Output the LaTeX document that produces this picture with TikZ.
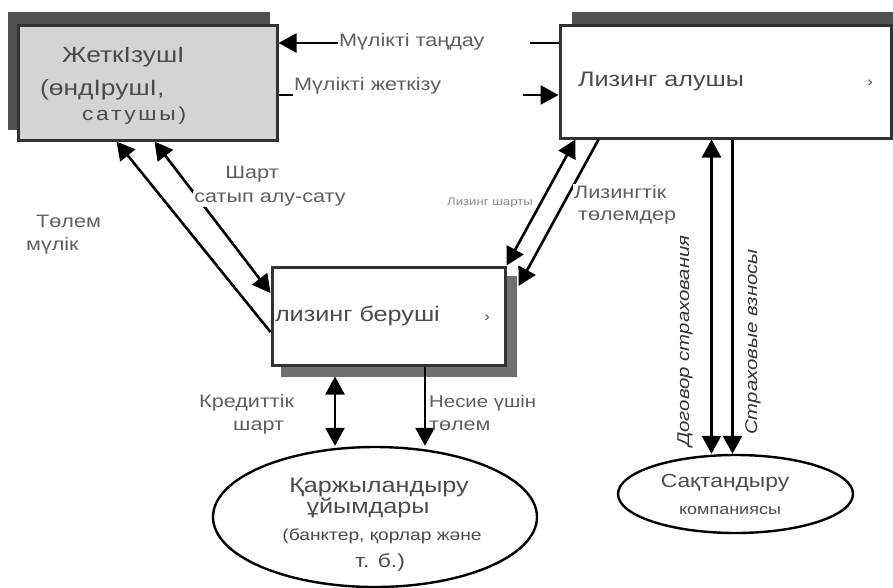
\documentclass[tikz,border=0pt]{standalone}
\usepackage{fontspec}
\setmainfont[FakeStretch=1.2]{Liberation Sans}
\usepackage{tikz}
\usetikzlibrary{arrows.meta, shapes.geometric, shadows, calc, positioning}
\definecolor{boxgray}{RGB}{212,212,212}
\definecolor{shade}{RGB}{80,80,80}
\definecolor{shadelight}{RGB}{112,112,112}
\definecolor{frame}{RGB}{50,50,50}
\definecolor{ink}{RGB}{75,75,75}
\definecolor{labelink}{RGB}{95,95,95}
\definecolor{faint}{RGB}{140,140,140}

\begin{document}
\begin{tikzpicture}[x=1pt, y=-1pt]

% TikZ styles
\tikzset{
  party/.style={rectangle, draw=frame, line width=3pt, fill=white, inner sep=0pt},
  fund/.style={ellipse, draw=black, line width=2.4pt, fill=white, inner sep=0pt},
  boxtext/.style={text=ink, inner sep=0pt, font=\fontsize{22}{24}\selectfont},
  lbl/.style={text=labelink, fill=white, inner sep=1pt, font=\fontsize{18}{20}\selectfont},
  arrow/.style={-{Triangle[length=18pt, width=19pt]}, line width=2.6pt},
  arrowboth/.style={{Triangle[length=18pt, width=19pt]}-{Triangle[length=18pt, width=19pt]}, line width=2.6pt}
}
\useasboundingbox (0,0) rectangle (893,587);

%==========================
% Teilnehmer
%==========================
\node[party, fill=boxgray, minimum width=259pt, minimum height=115pt,
  copy shadow={shadow xshift=-9pt, shadow yshift=12pt, fill=shade, draw=shade}] (supplier) at (147.5,82.5) {};
\node[party, minimum height=113pt, text width=295pt, inner xsep=18pt, align=left,
  text=ink, font=\fontsize{21}{24}\selectfont,
  copy shadow={shadow xshift=13pt, shadow yshift=12pt, fill=shade, draw=shade}] (lessee) at (725.5,81.5) {Лизинг алушы\hfill{\fontsize{14}{14}\selectfont ›}};
\node[party, minimum height=98pt, text width=227pt, inner xsep=3pt, align=left,
  text=ink, font=\fontsize{21}{24}\selectfont,
  copy shadow={shadow xshift=10pt, shadow yshift=-10pt, fill=shadelight, draw=shadelight}] (lessor) at (388.5,316) {лизинг беруші\hfill{\fontsize{14}{14}\selectfont ›}\hspace*{12pt}};
\node[fund, minimum width=324pt, minimum height=140pt] (funding) at (375,517) {};
\node[fund, minimum width=235pt, minimum height=78pt] (insurer) at (735.5,494) {};

% --- Texte in den Boxen ---
\node[boxtext, anchor=base west] (suppliername) at (62,62) {ЖеткІзушІ};
\node[boxtext, anchor=base west] (supplierkind) at (40,95) {(өндІрушІ,};
\node[boxtext, anchor=base west, font=\fontsize{19}{20}\selectfont\addfontfeature{LetterSpace=14}] (supplierseller) at (82,120) {сатушы)};

\node[boxtext, anchor=base, font=\fontsize{21}{24}\selectfont] (fundname) at (379,492) {Қаржыландыру};
\node[boxtext, anchor=base, font=\fontsize{21}{24}\selectfont] (fundorgs) at (368,513) {ұйымдары};
\node[boxtext, anchor=base, font=\fontsize{16}{18}\selectfont] (fundlist) at (382,540) {(банктер, қорлар және};
\node[boxtext, anchor=base, font=\fontsize{19}{20}\selectfont] (fundetc) at (380,567) {т. б.)};

\node[boxtext, anchor=base, font=\fontsize{19}{20}\selectfont] (insurername) at (725,487) {Сақтандыру};
\node[boxtext, anchor=base, font=\fontsize{15}{18}\selectfont] (insurerkind) at (730,514) {компаниясы};

% --- Pfeile ---
\coordinate (chooseline) at (0,43);
\coordinate (giveline) at (0,95);
\draw[arrow] (lessee.west |- chooseline) -- (supplier.east |- chooseline);
\draw[arrow] (supplier.east |- giveline) -- (lessee.west |- giveline);

\draw[arrow] ($(lessor.west)+(0,16)$) -- ($(supplier.south west)+(100,0)$);
\draw[arrowboth] ($(supplier.south west)+(138,0)$) -- ($(lessor.west)+(0,-23)$);

\draw[arrowboth] ($(lessee.south west)+(17,0)$) -- (lessor.north east);
\draw[arrow] ($(lessee.south west)+(40,0)$) -- ($(lessor.east)+(12,-30)$);

\draw[arrowboth] ($(insurer.north |- lessee.south)+(-24,0)$) -- ($(insurer.north)+(-24,0)$);
\draw[arrow] ($(insurer.north |- lessee.south)+(-3,0)$) -- ($(insurer.north)+(-3,0)$);

\draw[arrowboth] ($(lessor.south)+(-53.5,10)$) -- ($(lessor.south |- funding.north)+(-53.5,0)$);
\draw[arrow] ($(lessor.south)+(36.5,0)$) -- ($(lessor.south |- funding.north)+(36.5,0)$);

% --- Beschriftungen ---
\node[lbl, anchor=west, text width=190pt] (choose) at (338,42) {Мүлікті таңдау};
\node[lbl, anchor=west, text width=228pt, inner ysep=3pt] (give) at (293,86) {Мүлікті жеткізу};

\node[lbl, anchor=base] (contracttitle) at (252,178) {Шарт};
\node[lbl, anchor=base] (contractsale) at (270,202) {сатып алу-сату};
\node[lbl, anchor=base west, fill=none] (paytxt) at (35,227) {Төлем};
\node[lbl, anchor=base west, fill=none] (propertytxt) at (25,250) {мүлік};

\node[lbl, anchor=base, text=faint, font=\fontsize{11}{12}\selectfont] (leasecontract) at (490,205) {Лизинг шарты};
\node[lbl, anchor=base west] (leasepaytitle) at (573,198) {Лизингтік};
\node[lbl, anchor=base west, fill=none] (leasepaysum) at (577,220) {төлемдер};

\node[lbl, anchor=base west, fill=none] (credittitle) at (198,407) {Кредиттік};
\node[lbl, anchor=base west, fill=none] (creditsub) at (232,430) {шарт};
\node[lbl, anchor=base west, fill=none, font=\fontsize{17}{20}\selectfont] (loanpaytitle) at (428,407) {Несие үшін};
\node[lbl, anchor=base west, fill=none] (loanpaysub) at (428,430) {төлем};

\node[lbl, fill=none, rotate=90, text=black!80, font=\itshape\fontsize{17}{20}\selectfont] (insurecontract) at (685,341) {Договор страхования};
\node[lbl, fill=none, rotate=90, text=black!80, font=\itshape\fontsize{17}{20}\selectfont] (insurefees) at (753,342) {Страховые взносы};
\end{tikzpicture}
\end{document}
